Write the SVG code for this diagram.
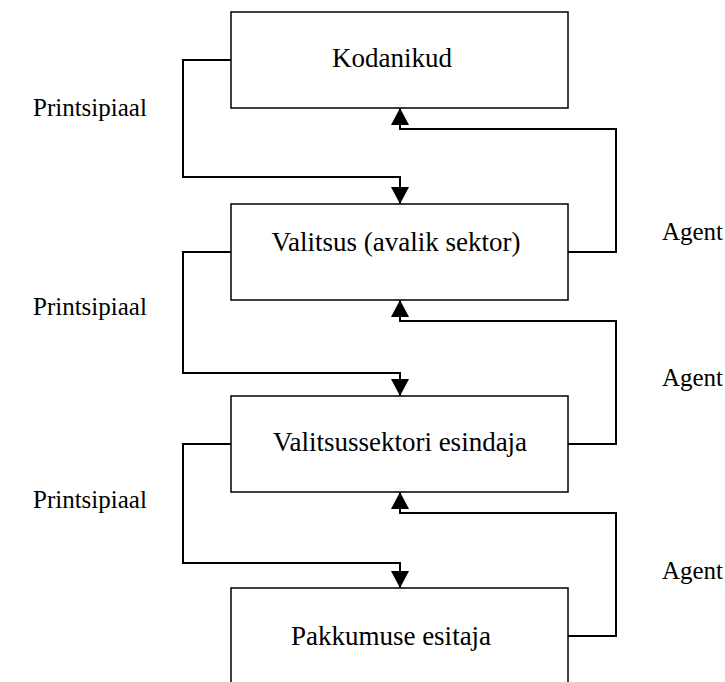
<svg xmlns="http://www.w3.org/2000/svg" width="725" height="682" viewBox="0 0 725 682">
  <style>
    .box { fill: #ffffff; stroke: #000000; stroke-width: 1.5; }
    .lbl { font-family: "Liberation Serif", "Times New Roman", serif; font-size: 25px; fill: #000000; }
    .name { font-family: "Liberation Serif", "Times New Roman", serif; font-size: 27px; fill: #000000; text-anchor: middle; }
    .end { text-anchor: end; }
    .link { fill: none; stroke: #000000; stroke-width: 2; }
  </style>
  <defs>
    <marker id="head" markerUnits="userSpaceOnUse" markerWidth="18" markerHeight="18" viewBox="0 0 18 18" refX="17" refY="9" orient="auto">
      <path d="M0,0 L17,9 L0,18 Z" fill="#000000"/>
    </marker>
  </defs>

  <rect width="725" height="682" fill="#ffffff"/>

  <g id="connectors">
    <!-- principal links, downward -->
    <path class="link" d="M231,60 H183 V177 H400 V204" marker-end="url(#head)"/>
    <path class="link" d="M231,252 H183 V373 H400 V396" marker-end="url(#head)"/>
    <path class="link" d="M231,444 H183 V563 H400 V588" marker-end="url(#head)"/>
    <!-- agent links, upward -->
    <path class="link" d="M568,252 H616 V129 H400 V108" marker-end="url(#head)"/>
    <path class="link" d="M568,444 H616 V321 H400 V300" marker-end="url(#head)"/>
    <path class="link" d="M568,636 H616 V513 H400 V492" marker-end="url(#head)"/>
  </g>

  <g id="kodanikud">
    <rect class="box" x="231" y="12" width="337" height="96"/>
    <text class="name" x="392" y="67">Kodanikud</text>
  </g>
  <g id="valitsus">
    <rect class="box" x="231" y="204" width="337" height="96"/>
    <text class="name" x="396" y="251">Valitsus (avalik sektor)</text>
  </g>
  <g id="esindaja">
    <rect class="box" x="231" y="396" width="337" height="96"/>
    <text class="name" x="400" y="451">Valitsussektori esindaja</text>
  </g>
  <g id="pakkumuse">
    <rect class="box" x="231" y="588" width="337" height="100"/>
    <text class="name" x="391" y="645">Pakkumuse esitaja</text>
  </g>

  <g id="labels">
    <text class="lbl" x="33" y="116">Printsipiaal</text>
    <text class="lbl" x="33" y="315">Printsipiaal</text>
    <text class="lbl" x="33" y="508">Printsipiaal</text>
    <text class="lbl end" x="723" y="240">Agent</text>
    <text class="lbl end" x="723" y="386">Agent</text>
    <text class="lbl end" x="723" y="579">Agent</text>
  </g>
</svg>
